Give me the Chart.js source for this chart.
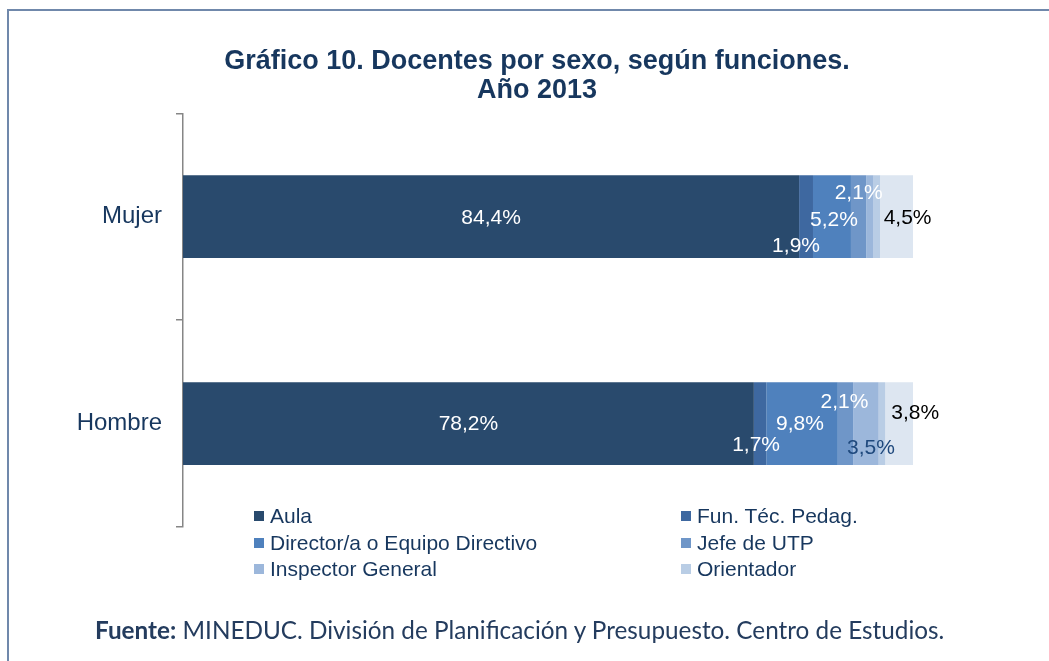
<!DOCTYPE html>
<html lang="es">
<head>
<meta charset="utf-8">
<title>Gráfico 10. Docentes por sexo, según funciones. Año 2013</title>
<script src="https://cdn.jsdelivr.net/npm/chart.js@4.4.1/dist/chart.umd.min.js"></script>
<style>
  html, body { margin: 0; padding: 0; background: #fff; }
  #page { position: relative; width: 1049px; height: 661px; overflow: hidden; }
  #frame {
    position: absolute; left: 7px; top: 9px; right: -4px; bottom: -4px;
    border-left: 2px solid #7088ab; border-top: 2px solid #7088ab;
  }
  #chart { position: absolute; left: 0; top: 0; }
  #legend {
    position: absolute; left: 254px; top: 503px;
    display: grid; grid-template-columns: 427px auto; grid-auto-rows: 26.5px;
    font-family: "Liberation Sans", Arial, sans-serif; font-size: 21px; color: #17375e;
  }
  .legend-item { display: flex; align-items: center; white-space: nowrap; }
  .legend-box { width: 10px; height: 10px; margin-right: 6px; flex: none; }
  #source {
    position: absolute; left: 95px; top: 615px; line-height: 30px;
    font-family: Lato, "Open Sans", sans-serif; font-size: 24.3px; color: #243c5e;
    white-space: nowrap;
  }
</style>
</head>
<body>
<div id="page">
  <div id="frame"></div>
  <canvas id="chart" width="1049" height="661"></canvas>
  <div id="legend"></div>
  <div id="source"><b>Fuente:</b> MINEDUC. División de Planificación y Presupuesto. Centro de Estudios.</div>
</div>
<script>
// Data (percent of each sex by function)
const categories = ['Mujer', 'Hombre'];
const seriesNames = ['Aula', 'Fun. Téc. Pedag.', 'Director/a o Equipo Directivo', 'Jefe de UTP', 'Inspector General', 'Orientador', 'Otros'];
const aula = [84.4, 78.2];
const funTecPedag = [1.9, 1.7];
const director = [5.2, 9.8];
const jefeUtp = [2.1, 2.1];
const inspector = [1.0, 3.5];
const orientador = [0.9, 0.9];
const otros = [4.5, 3.8];
const xTicks = [0, 100];

const seriesValues = [aula, funTecPedag, director, jefeUtp, inspector, orientador, otros];
const seriesColors = ['#294a6d', '#3e68a0', '#4f81bd', '#6f96c8', '#9cb7db', '#b9cde5', '#dde6f1'];
const inLegend = [true, true, true, true, true, true, false];

// Label placement per series, per category: [dx, dy, color] or null (no label)
const labelPlacement = [
  [[0, 1, '#ffffff'], [0, 1, '#ffffff']],
  [[-10, 29, '#ffffff'], [-4, 22, '#ffffff']],
  [[2, 3, '#ffffff'], [-2, 1, '#ffffff']],
  [[0, -24, '#ffffff'], [-1, -21, '#ffffff']],
  [null, [5, 25, '#1f497d']],
  [null, null],
  [[11, 1, '#000000'], [16, -10, '#000000']]
];

const fontFamily = '"Liberation Sans", Arial, sans-serif';

// 1. Value labels drawn from the bar elements
const valueLabels = {
  id: 'valueLabels',
  afterDatasetsDraw(chart) {
    const ctx = chart.ctx;
    ctx.save();
    ctx.font = '21px ' + fontFamily;
    ctx.textAlign = 'center';
    ctx.textBaseline = 'middle';
    chart.data.datasets.forEach((ds, i) => {
      const meta = chart.getDatasetMeta(i);
      meta.data.forEach((bar, j) => {
        const place = labelPlacement[i][j];
        if (!place) return;
        const cx = (bar.x + bar.base) / 2 + place[0];
        const cy = bar.y + place[1];
        ctx.fillStyle = place[2];
        ctx.fillText(ds.data[j].toFixed(1).replace('.', ',') + '%', cx, cy);
      });
    });
    ctx.restore();
  }
};

// 2. Chart (an empty right axis reserves the right margin so the title stays centred)
const chart = new Chart(document.getElementById('chart'), {
  type: 'bar',
  data: {
    labels: categories,
    datasets: seriesNames.map((name, i) => ({
      label: name,
      data: seriesValues[i],
      backgroundColor: seriesColors[i],
      borderWidth: 0,
      barPercentage: 0.4,
      categoryPercentage: 1
    }))
  },
  options: {
    indexAxis: 'y',
    responsive: false,
    animation: false,
    layout: { padding: { top: 0, right: 0, bottom: 134, left: 25 } },
    plugins: {
      legend: { display: false },
      tooltip: { enabled: false },
      title: {
        display: true,
        text: ['Gráfico 10. Docentes por sexo, según funciones.', 'Año 2013'],
        color: '#17375e',
        font: { family: fontFamily, size: 27, weight: 'bold', lineHeight: 1.08 },
        padding: { top: 47, bottom: 8 }
      }
    },
    scales: {
      x: {
        stacked: true,
        min: xTicks[0],
        max: xTicks[1],
        display: false
      },
      y: {
        stacked: true,
        afterFit: (scale) => { scale.width = 158; },
        border: { display: true, color: '#868686', width: 1.5 },
        grid: { drawOnChartArea: false, drawTicks: true, tickLength: 7, color: '#868686', lineWidth: 1.5 },
        ticks: { color: '#17375e', padding: 14, font: { family: fontFamily, size: 24 } }
      },
      yRight: {
        axis: 'y',
        type: 'category',
        position: 'right',
        afterFit: (scale) => { scale.width = 136; },
        border: { display: false },
        grid: { display: false },
        ticks: { display: false }
      }
    }
  },
  plugins: [valueLabels]
});

// 3. Legend in two columns (built from the datasets)
function buildLegend() {
  const legend = document.getElementById('legend');
  chart.data.datasets.forEach((ds, i) => {
    if (!inLegend[i]) return;
    const item = document.createElement('div');
    item.className = 'legend-item';
    const box = document.createElement('span');
    box.className = 'legend-box';
    box.style.background = ds.backgroundColor;
    const text = document.createElement('span');
    text.textContent = ds.label;
    item.appendChild(box);
    item.appendChild(text);
    legend.appendChild(item);
  });
}
buildLegend();
</script>
</body>
</html>
